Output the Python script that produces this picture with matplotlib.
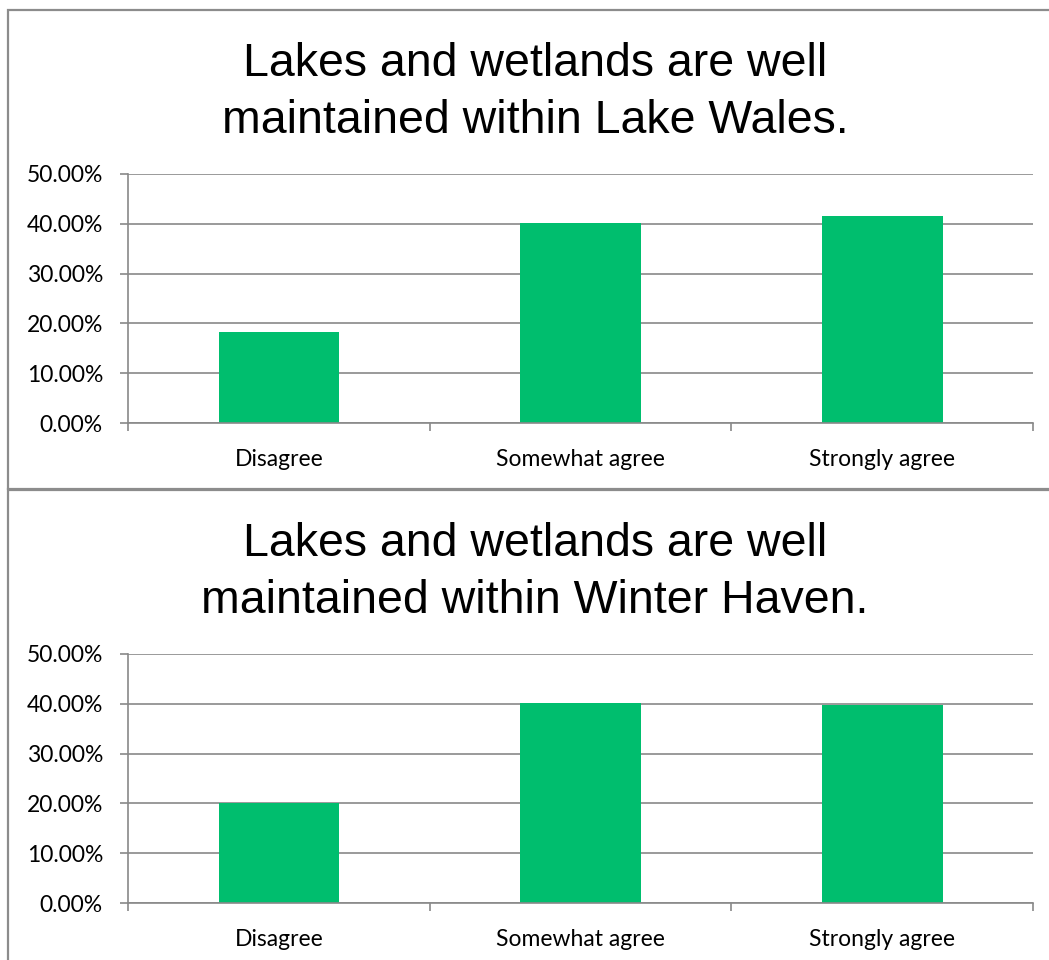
import matplotlib
matplotlib.use("Agg")
import matplotlib.pyplot as plt
from matplotlib.patches import Rectangle
from matplotlib.ticker import FuncFormatter, FixedLocator

# survey responses, share of respondents (%)
categories = ["Disagree", "Somewhat agree", "Strongly agree"]
lake_wales = [18.3, 40.1, 41.6]
winter_haven = [20.0, 40.2, 39.8]
titles = [
    ["Lakes and wetlands are well", "maintained within Lake Wales."],
    ["Lakes and wetlands are well", "maintained within Winter Haven."],
]
y_ticks = [0, 10, 20, 30, 40, 50]

W, H = 1049, 960
BAR = "#00BE6E"
GRID = "#898989"
FRAME = "#8C8C8C"

fig = plt.figure(figsize=(W / 100, H / 100), dpi=100)


def fx(px):
    return px / W


def fy(py):
    return 1 - py / H


panels = [
    (lake_wales, titles[0], 0),
    (winter_haven, titles[1], 480),
]

for values, title, off in panels:
    # panel frame
    top = 10 if off == 0 else 489.5
    bot = 489.5 if off == 0 else H + 20
    fig.patches.append(Rectangle((fx(7.5), fy(bot)), fx(W + 20 - 7.5), fy(top) - fy(bot),
                                 transform=fig.transFigure, fill=False,
                                 edgecolor=FRAME, lw=1.6))

    for k, line in enumerate(title):
        fig.text(fx(535), fy(76 + off + k * 57), line, ha="center", va="baseline",
                 fontsize=33.5, family="Liberation Sans", color="black")

    ax = fig.add_axes([fx(128), fy(423 + off), fx(1033 - 128), (249) / H])
    ax.bar(range(len(categories)), values, width=0.4, color=BAR, zorder=3)
    ax.set_xlim(-0.5, len(categories) - 0.5)
    ax.set_ylim(0, 50)
    ax.set_yticks(y_ticks)
    ax.yaxis.set_major_formatter(FuncFormatter(lambda v, _: f"{v:.2f}%"))
    ax.grid(axis="y", color=GRID, lw=1.2, zorder=0)

    # category boundaries carry the tick marks, labels sit at the centres
    ax.xaxis.set_major_locator(FixedLocator([-0.5, 0.5, 1.5, 2.5]))
    ax.xaxis.set_major_formatter(FuncFormatter(lambda v, _: ""))
    ax.xaxis.set_minor_locator(FixedLocator(range(len(categories))))
    ax.set_xticklabels(categories, minor=True)
    ax.tick_params(axis="x", which="major", length=6, width=1.2, color=GRID, direction="out")
    ax.tick_params(axis="x", which="minor", length=0, pad=19, labelsize=16.5)
    ax.tick_params(axis="y", length=6, width=1.2, color=GRID, pad=12, labelsize=16.5)
    for lab in ax.get_xticklabels(minor=True) + ax.get_yticklabels():
        lab.set_family("Lato")

    for side in ("top", "right"):
        ax.spines[side].set_visible(False)
    for side in ("left", "bottom"):
        ax.spines[side].set_color(GRID)
        ax.spines[side].set_linewidth(1.2)
        ax.spines[side].set_zorder(4)

fig.savefig("out.png", dpi=100)
